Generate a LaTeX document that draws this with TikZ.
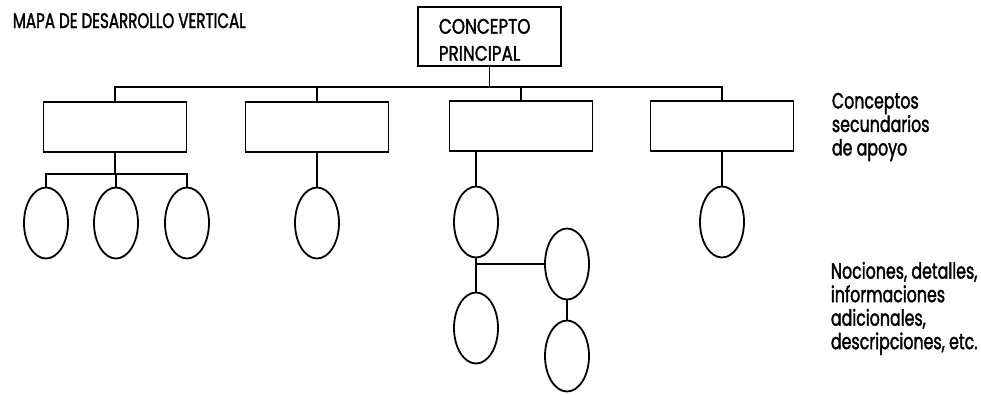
\documentclass[tikz,border=0pt]{standalone}
\usepackage{fontspec}
\setmainfont{Poppins}[FakeStretch=0.72, FakeBold=1.6]
\newfontfamily\boxfont{Poppins}[FakeStretch=0.8, FakeBold=1.6]
\usetikzlibrary{calc,shapes.geometric}
\begin{document}
\begin{tikzpicture}[x=1pt,y=-1pt,
  line width=1.8pt,
  sqbox/.style={draw, rectangle, minimum width=143pt, minimum height=50pt, inner sep=0pt},
  oval/.style={draw, ellipse, minimum width=44pt, minimum height=71pt, inner sep=0pt},
  caption/.style={align=left, anchor=north west, inner sep=0pt, font=\fontsize{22}{23.5}\selectfont}]
\useasboundingbox (0,0) rectangle (981,394);

% title
\node[anchor=base west, inner sep=0pt, font=\fontsize{21}{24}\selectfont] (title) at (12,28) {MAPA DE DESARROLLO VERTICAL};

% main concept
\node[draw, rectangle, minimum width=143pt, minimum height=59pt, inner sep=0pt] (main) at (489.5,36.5) {};
\node[anchor=north west, inner sep=0pt, align=left, font=\boxfont\fontsize{21}{27}\selectfont] (mainlbl) at (438,18)
  {CONCEPTO\\PRINCIPAL};

% secondary concepts
\node[sqbox] (b1) at (115,127) {};
\node[sqbox] (b2) at (317,127) {};
\node[sqbox] (b3) at (521,126) {};
\node[sqbox] (b4) at (722,126) {};

% details
\node[oval] (e1) at (46,223) {};
\node[oval] (e2) at (116,223) {};
\node[oval] (e3) at (187,223) {};
\node[oval] (e4) at (317,223) {};
\node[oval] (e5) at (476,222) {};
\node[oval] (e6) at (476,328) {};
\node[oval] (e7) at (567,264) {};
\node[oval] (e8) at (567,356) {};
\node[oval] (e9) at (722,222) {};

% connectors
\coordinate (bus) at (0,87);
\coordinate (j1) at (0,174);
\draw (main.south) -- (main.south |- bus);
\draw (b1.north) -- (b1.north |- bus) -- (b4.north |- bus) -- (b4.north);
\draw (b2.north) -- (b2.north |- bus);
\draw (b3.north) -- (b3.north |- bus);

\draw (b1.south) -- (b1.south |- j1);
\draw (e1.north) -- (e1.north |- j1) -- (e3.north |- j1) -- (e3.north);
\draw (e2.north) -- (e2.north |- j1);
\draw (b2.south) -- (e4.north);
\draw (b3.south -| e5.north) -- (e5.north);
\draw (e5.south) -- (e6.north);
\draw (e5.south |- e7.west) -- (e7.west);
\draw (e7.south) -- (e8.north);
\draw (b4.south) -- (e9.north);

% side captions
\node[caption] (cap1) at (831,92) {Conceptos\\secundarios\\de apoyo};
\node[caption] (cap2) at (830,261) {Nociones, detalles,\\informaciones\\adicionales,\\descripciones, etc.};
\end{tikzpicture}
\end{document}
